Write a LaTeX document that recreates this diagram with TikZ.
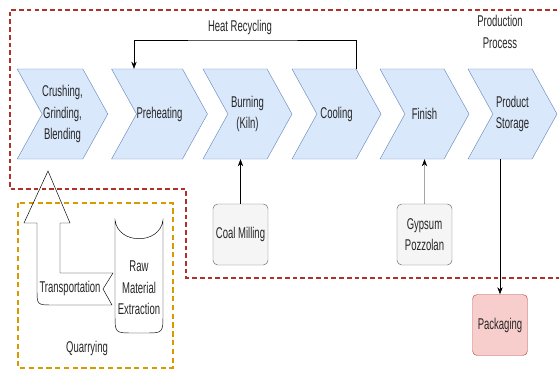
\documentclass[tikz,border=0pt]{standalone}
\usepackage{fontspec}
\setmainfont[FakeStretch=0.61]{Liberation Sans}
\usetikzlibrary{shapes.symbols,arrows.meta}
\definecolor{stagefill}{HTML}{DAE8FC}
\definecolor{stageline}{HTML}{6C8EBF}
\definecolor{sidefill}{HTML}{F5F5F5}
\definecolor{sideline}{HTML}{666666}
\definecolor{packfill}{HTML}{F8CECC}
\definecolor{packline}{HTML}{B85450}
\definecolor{plantred}{HTML}{B0302A}
\definecolor{quarryorange}{HTML}{D79B00}

\begin{document}
\begin{tikzpicture}[x=0.03cm, y=-0.03cm, >={Stealth[length=6pt,width=4.5pt]},
	every node/.style={font=\fontsize{13.3}{18.5}\selectfont, text=black!85},
	stage/.style={draw=stageline, fill=stagefill, shape=signal, signal from=west, signal to=east,
		signal pointer angle=122, minimum width=2.67cm, minimum height=2.7cm, inner sep=0pt, align=center},
	side/.style={draw=sideline, fill=sidefill, rounded corners=4pt, minimum width=1.65cm,
		minimum height=1.83cm, inner sep=1pt, align=center},
	plant/.style={draw=plantred, line width=1.6pt, dash pattern=on 4pt off 2.6pt},
	quarry/.style={draw=quarryorange, line width=1.2pt, dash pattern=on 4.5pt off 3pt}]
			\useasboundingbox (0,0) rectangle (559,370);

			% production process area
			\draw[plant] (565,10) -- (10,10) -- (10,189) -- (186,189) -- (186,278) -- (565,278);
			\node[align=center] (prodlbl) at (500,32) {Production\\Process};

			\node[stage] (crush) at (62.5,114) {Crushing,\\Grinding,\\Blending};
			\node[stage] (pre) at (159.5,114) {Preheating};
			\node[stage] (burn) at (247.5,114) {Burning\\(Kiln)};
			\node[stage] (cool) at (336.5,114) {Cooling};
			\node[stage] (fin) at (424.5,114) {Finish};
			\node[stage] (stor) at (512.5,114) {Product\\Storage};

			\node[side] (coal) at (240.5,234.5) {Coal Milling};
			\node[side] (gyp) at (424.5,234.5) {Gypsum\\Pozzolan};
			\node[side, draw=packline, fill=packfill] (pack) at (500,325) {Packaging};

			\coordinate (loop) at (240,40);
			\node (heatlbl) at (240,27) {Heat Recycling};
			\draw[->] ([xshift=0.585cm]cool.north) |- (loop) -| ([xshift=-0.765cm]pre.north);

			\draw[->] (coal.north) -- (coal.north |- burn.south);
			\draw[->] (gyp) -- (fin);
			\draw[->] (pack.north |- stor.south) -- (pack.north);

			% quarrying
			\draw[quarry] (18,203) rectangle (173,368);
			\node (quarrylbl) at (87,348) {Quarrying};

			\node[align=center] (raw) at (139,288) {Raw\\Material\\Extraction};
			\draw (115,220) .. controls (118,245) and (160,245) .. (163,220) -- (163,314)
				.. controls (163,333) .. (145,333) -- (133,333) .. controls (115,333) .. (115,314) -- cycle;

			\node (trans) at (70,288) {Transportation};
			\draw (48,171) -- (70,223) -- (60,223) -- (60,273) -- (113,273) -- (103,289) -- (112,305)
				-- (53,305) .. controls (37,305) .. (37,289) -- (37,223) -- (24,223) -- cycle;
		\end{tikzpicture}
\end{document}
